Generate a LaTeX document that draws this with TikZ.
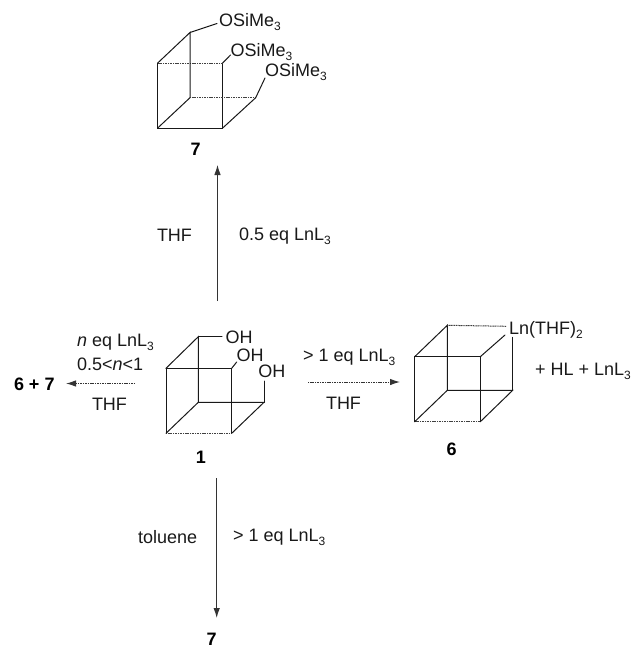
\documentclass[tikz,border=0pt]{standalone}
\usepackage{fontspec}
\setmainfont{Liberation Sans}
\usetikzlibrary{arrows.meta}
\newcommand{\lowidx}[1]{\raisebox{-4pt}{\fontsize{12}{12}\selectfont #1}}
\newcommand{\LnLthree}{LnL\lowidx{3}}
\newcommand{\OSi}{OSiMe\lowidx{3}}
\tikzset{
  lbl/.style={anchor=base west,inner sep=0pt,outer sep=0pt,font=\fontsize{18}{20}\selectfont,text=black!90},
  num/.style={anchor=base,inner sep=0pt,outer sep=0pt,font=\fontsize{18}{20}\selectfont\bfseries},
  bond/.style={line width=1pt,draw=black!90,line cap=round},
  faint/.style={line width=1pt,draw=black!75,dash pattern=on 1.1pt off 0.6pt},
  rxn/.style={line width=1pt,draw=black!80,-{Latex[length=10pt,width=6.5pt]}},
  rxnfaint/.style={rxn,dash pattern=on 1.1pt off 0.6pt}
}
\begin{document}
\begin{tikzpicture}[x=1pt,y=-1pt]
\useasboundingbox (0,0) rectangle (637,648);
% cube 7
\coordinate (a1) at (157.7,63);
\coordinate (a2) at (222.7,63);
\coordinate (a3) at (222.7,128);
\coordinate (a4) at (157.7,128);
\coordinate (a5) at (190,32.5);
\coordinate (a6) at (190,97.7);
\coordinate (a7) at (255.7,97.7);
\node[lbl] (s1) at (219,26) {\OSi};
\node[lbl] (s2) at (230.7,56) {\OSi};
\node[lbl] (s3) at (265,76) {\OSi};
\coordinate (s1e) at (217,23.5);
\coordinate (s2e) at (230.5,55);
\coordinate (s3e) at (265,78);
\draw[bond] (a2)--(a3)--(a4)--(a1);
\draw[faint] (a1)--(a2);
\draw[bond] (a1)--(a5)--(a6)--(a4);
\draw[faint] (a6)--(a7);
\draw[bond] (a7)--(a3);
\draw[bond] (a5)--(s1e);
\draw[bond] (a2)--(s2e);
\draw[bond] (a7)--(s3e);
\node[num] (n7a) at (195.7,155) {7};
% cube 1
\coordinate (b1) at (166,368.3);
\coordinate (b2) at (231.7,368.3);
\coordinate (b3) at (231.7,433.3);
\coordinate (b4) at (166,433.3);
\coordinate (b5) at (198.3,336.7);
\coordinate (b6) at (198.3,402.3);
\coordinate (b7) at (264,402.3);
\node[lbl] (h1) at (225.7,343.3) {OH};
\node[lbl] (h2) at (236.7,361.7) {OH};
\node[lbl] (h3) at (258.3,377.3) {OH};
\coordinate (h1e) at (222,336.7);
\coordinate (h2e) at (236.7,362);
\coordinate (h3e) at (264,381);
\draw[bond] (b1)--(b2)--(b3);
\draw[bond] (b1)--(b4);
\draw[faint] (b4)--(b3);
\draw[bond] (b1)--(b5)--(b6)--(b4);
\draw[bond] (b6)--(b7)--(b3);
\draw[bond] (b5)--(h1e);
\draw[bond] (b2)--(h2e);
\draw[bond] (b7)--(h3e);
\node[num] (n1) at (201,463) {1};
% cube 6
\coordinate (c1) at (414.7,356.7);
\coordinate (c2) at (480.3,356.7);
\coordinate (c3) at (480.3,421.7);
\coordinate (c4) at (414.7,421.7);
\coordinate (c5) at (447.3,325.3);
\coordinate (c6) at (447.3,390.3);
\coordinate (c7) at (512.7,390.3);
\node[lbl] (ln) at (509,334) {Ln(THF)\lowidx{2}};
\coordinate (l1) at (506.7,326.3);
\coordinate (l2) at (505,335);
\coordinate (l3) at (512.7,337.3);
\draw[bond] (c1)--(c2)--(c3);
\draw[bond] (c1)--(c4);
\draw[faint] (c4)--(c3);
\draw[bond] (c1)--(c5)--(c6)--(c4);
\draw[bond] (c6)--(c7)--(c3);
\draw[faint] (c5)--(l1);
\draw[bond] (c2)--(l2);
\draw[bond,line width=0.8pt] (c7)--(l3);
\node[num] (n6) at (451.7,455) {6};
\node[lbl] (prod) at (535,375) {+ HL + \LnLthree};
% arrows
\coordinate (u1) at (217.5,301);
\coordinate (u2) at (217.5,165);
\draw[rxn,line width=0.8pt] (u1)--(u2);
\node[lbl] (uL) at (157,241.7) {THF};
\node[lbl] (uR) at (239,240.7) {0.5 eq \LnLthree};
\coordinate (d1) at (216.7,478);
\coordinate (d2) at (216.7,618);
\draw[rxn] (d1)--(d2);
\node[lbl] (dL) at (138,543) {toluene};
\node[lbl] (dR) at (233,541.7) {> 1 eq \LnLthree};
\node[num] (n7b) at (211.7,645) {7};
\coordinate (w1) at (135,383.5);
\coordinate (w2) at (66,383.5);
\draw[rxnfaint] (w1)--(w2);
\node[lbl] (wA) at (77,346.7) {\textit{n} eq \LnLthree};
\node[lbl] (wB) at (77,370) {0.5<\textit{n}<1};
\node[lbl] (wC) at (92,410.7) {THF};
\node[num,anchor=base west] (wP) at (14,390) {6 + 7};
\coordinate (e1) at (308,382);
\coordinate (e2) at (400,382);
\draw[rxnfaint] (e1)--(e2);
\node[lbl] (eA) at (303,361.7) {> 1 eq \LnLthree};
\node[lbl] (eB) at (326,409) {THF};
\end{tikzpicture}
\end{document}
